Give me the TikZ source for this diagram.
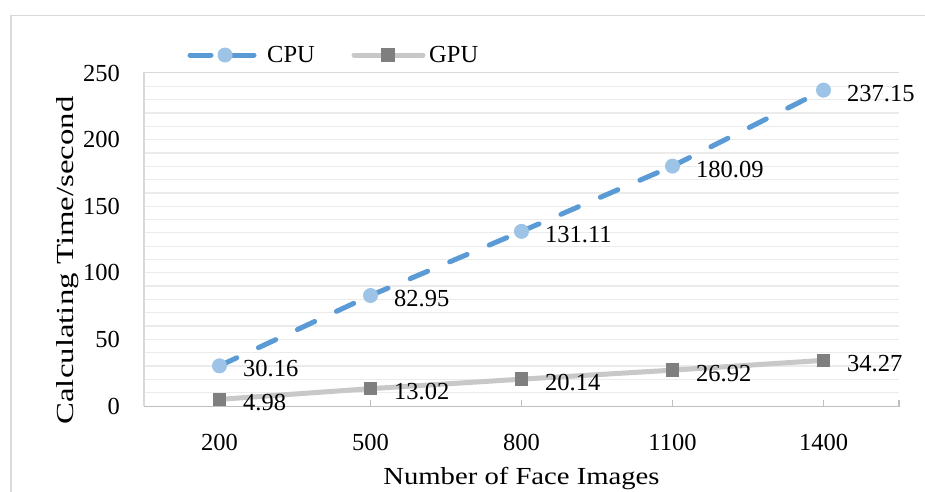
\documentclass[tikz,border=0pt]{standalone}
\usepackage{fontspec}
\setmainfont{Liberation Serif}
\newfontfamily\xtitlefont{Liberation Serif}[FakeStretch=1.17]
\newfontfamily\ytitlefont{Liberation Serif}[FakeStretch=1.34]
\definecolor{cpuline}{HTML}{5B9BD5}
\definecolor{cpumark}{HTML}{9DC3E6}
\definecolor{gpuline}{HTML}{C8C8C8}
\definecolor{gpumark}{HTML}{7F7F7F}
\definecolor{gridc}{HTML}{EBEBEB}
\definecolor{framec}{HTML}{D9D9D9}
\definecolor{axisc}{HTML}{BFBFBF}
\tikzset{
  txt/.style={font=\fontsize{24.5}{29}\selectfont, inner sep=0pt, text=black},
  cpuseg/.style={cpuline, line width=5pt, line cap=round, dash pattern=on 19pt off 24pt},
  gpuseg/.style={gpuline, line width=5pt, line cap=round},
  cpudot/.style={circle, fill=cpumark, minimum size=15pt, inner sep=0pt},
  gpusq/.style={rectangle, fill=gpumark, minimum size=13.5pt, inner sep=0pt},
  vlab/.style={txt, anchor=west, xshift=23.5pt, yshift=-3pt},
  gridline/.style={gridc, line width=1.3pt},
}
\begin{document}
\begin{tikzpicture}[x=1pt,y=-1pt]
\useasboundingbox (0,0) rectangle (925,491);
\fill[white] (0,0) rectangle (925,491);

% chart frame (runs off the right and bottom edges)
\draw[framec, line width=1.6pt] (11,495) -- (11,15.5) -- (930,15.5);

% horizontal gridlines every 10 units
\foreach \v in {10,20,...,240}
  \draw[gridline] (144,{406-1.332*\v}) -- (899,{406-1.332*\v});

% plot-area border
\draw[framec, line width=1.5pt] (144,406) -- (144,72.5) -- (899,72.5);

% category axis with tick marks
\draw[axisc, line width=1.5pt] (144,406.5) -- (899,406.5);
\foreach \xx in {219.5,370.5,521.5,672.5,823.5,899}
  \draw[axisc, line width=1.3pt] (\xx,400) -- (\xx,406.5);

% value-axis labels
\foreach \v in {0,50,100,150,200,250}
  \node[txt, anchor=east] (ylab\v) at (120,{406-1.332*\v}) {\v};

% category labels
\foreach \c/\xx in {200/219.5,500/370.5,800/521.5,1100/672.5,1400/823.5}
  \node[txt] (xlab\c) at (\xx,442) {\c};

% axis titles
\node[txt, anchor=base] (xtitle) at (521.5,484.5) {\xtitlefont Number of Face Images};
\node[txt, anchor=base, rotate=90] (ytitle) at (73.5,260.5) {\ytitlefont Calculating Time/second};

% data points
\coordinate (c1) at (219.5,{406-1.332*30.16});
\coordinate (c2) at (370.5,{406-1.332*82.95});
\coordinate (c3) at (521.5,{406-1.332*131.11});
\coordinate (c4) at (672.5,{406-1.332*180.09});
\coordinate (c5) at (823.5,{406-1.332*237.15});
\coordinate (g1) at (219.5,{406-1.332*4.98});
\coordinate (g2) at (370.5,{406-1.332*13.02});
\coordinate (g3) at (521.5,{406-1.332*20.14});
\coordinate (g4) at (672.5,{406-1.332*26.92});
\coordinate (g5) at (823.5,{406-1.332*34.27});

% GPU series
\draw[gpuseg] (g1) -- (g2);
\draw[gpuseg] (g2) -- (g3);
\draw[gpuseg] (g3) -- (g4);
\draw[gpuseg] (g4) -- (g5);
\foreach \i in {1,...,5}
  \node[gpusq] (gm\i) at (g\i) {};

% CPU series (dash pattern restarts at each point)
\draw[cpuseg] (c1) -- (c2);
\draw[cpuseg] (c2) -- (c3);
\draw[cpuseg] (c3) -- (c4);
\draw[cpuseg] (c4) -- (c5);
\foreach \i in {1,...,5}
  \node[cpudot] (cm\i) at (c\i) {};

% data labels
\node[vlab] (lc1) at (c1) {30.16};
\node[vlab] (lc2) at (c2) {82.95};
\node[vlab] (lc3) at (c3) {131.11};
\node[vlab] (lc4) at (c4) {180.09};
\node[vlab] (lc5) at (c5) {237.15};
\node[vlab] (lg1) at (g1) {4.98};
\node[vlab] (lg2) at (g2) {13.02};
\node[vlab] (lg3) at (g3) {20.14};
\node[vlab] (lg4) at (g4) {26.92};
\node[vlab] (lg5) at (g5) {34.27};

% legend
\coordinate (lcA) at (190,55);
\coordinate (lcB) at (254,55);
\coordinate (lgA) at (354,55);
\coordinate (lgB) at (423,55);
\draw[cpuline, line width=5pt, line cap=round] (lcA) -- (211,55);
\draw[cpuline, line width=5pt, line cap=round] (233,55) -- (lcB);
\node[cpudot] (legc) at (225,55) {};
\node[txt, anchor=west] (legctext) at (267,55) {CPU};
\draw[gpuseg] (lgA) -- (lgB);
\node[gpusq] (legg) at (388,55) {};
\node[txt, anchor=west] (leggtext) at (429,55) {GPU};
\end{tikzpicture}
\end{document}
